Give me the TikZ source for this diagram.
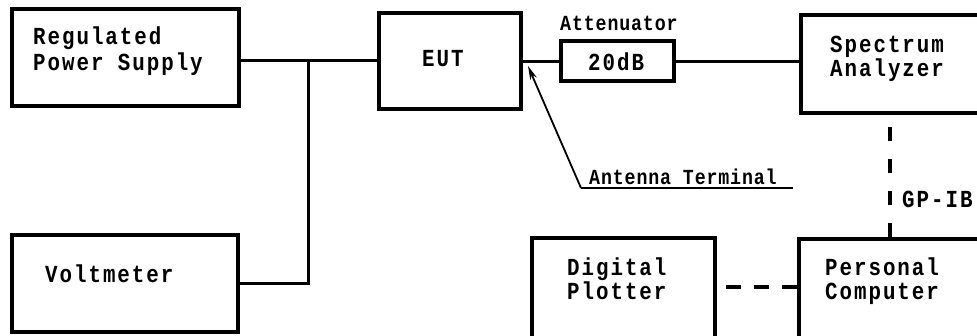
\documentclass[tikz,border=0pt]{standalone}
\usepackage{fontspec}
\setmainfont{Liberation Mono}
\newfontfamily\mainlbl[LetterSpace=8,FakeStretch=0.85]{Liberation Mono Bold}
\newfontfamily\smalllbl[LetterSpace=4,FakeStretch=0.85]{Liberation Mono Bold}
\usetikzlibrary{arrows.meta}
\tikzset{
  box/.style={draw, line width=3.2pt, rectangle, inner sep=0pt},
  wire/.style={line width=3pt},
  dline/.style={line width=3.2pt},
  lbl/.style={anchor=base west, inner sep=0pt, font=\mainlbl\fontsize{24.5}{24.5}\selectfont},
  slbl/.style={anchor=base west, inner sep=0pt, font=\smalllbl\fontsize{21.5}{21.5}\selectfont},
  thin/.style={line width=1.8pt}
}
\begin{document}
\begin{tikzpicture}[x=1pt,y=-1pt]
\useasboundingbox (0,0) rectangle (977,335);
\fill[white] (0,0) rectangle (977,335);
\clip (0,0) rectangle (977,335);
% boxes
\node[box, minimum width=227pt, minimum height=97pt] (psu) at (125.5,57.5) {};
\node[box, minimum width=226pt, minimum height=97pt] (volt) at (125,283.5) {};
\node[box, minimum width=142pt, minimum height=96pt] (eut) at (450,61) {};
\node[box, minimum width=113pt, minimum height=40pt] (att) at (617.5,61) {};
\node[box, minimum width=209pt, minimum height=98pt] (sa) at (905.5,64) {};
\node[box, minimum width=211pt, minimum height=161pt] (pc) at (904.5,319.5) {};
\node[box, minimum width=183pt, minimum height=122pt] (plot) at (623.5,299) {};
% texts
\node[lbl] (t1) at (33,44) {Regulated};
\node[lbl] (t2) at (33,70) {Power Supply};
\node[lbl] (t3) at (45,282) {Voltmeter};
\node[lbl] (t4) at (422,66) {EUT};
\node[slbl] (t5) at (560,30) {Attenuator};
\node[lbl] (t6) at (588,70) {20dB};
\node[lbl] (t7) at (830,52) {Spectrum};
\node[lbl] (t8) at (830,76) {Analyzer};
\node[slbl] (t9) at (589,184) {Antenna Terminal};
\node[lbl] (t10) at (902,207) {GP-IB};
\node[lbl] (t11) at (567,275) {Digital};
\node[lbl] (t12) at (567,299) {Plotter};
\node[lbl] (t13) at (825,275) {Personal};
\node[lbl] (t14) at (825,299) {Computer};
% connectors
\coordinate (j) at (308,60);
\coordinate (gp) at (890,0);
\coordinate (dl) at (0,287);
\draw[wire] (psu.east |- j) -- (eut.west |- j);
\draw[wire] (volt.east) -| (j);
\draw[wire] (eut.east) -- (att.west);
\draw[wire] (att.east) -- (att.east -| sa.west);
\draw[dline, dash pattern=on 14pt off 18pt] (gp |- pc.north) -- (gp |- sa.south);
\draw[dline, dash pattern=on 15pt off 13pt] (pc.west |- dl) -- (plot.east |- dl);
% antenna terminal pointer
\coordinate (tip) at (528,66);
\coordinate (ant) at (581,188);
\coordinate (antend) at (793,188);
\draw[thin, -{Stealth[length=14pt, width=7pt]}] (ant) -- (tip);
\draw[thin] (ant) -- (antend);
\end{tikzpicture}
\end{document}
